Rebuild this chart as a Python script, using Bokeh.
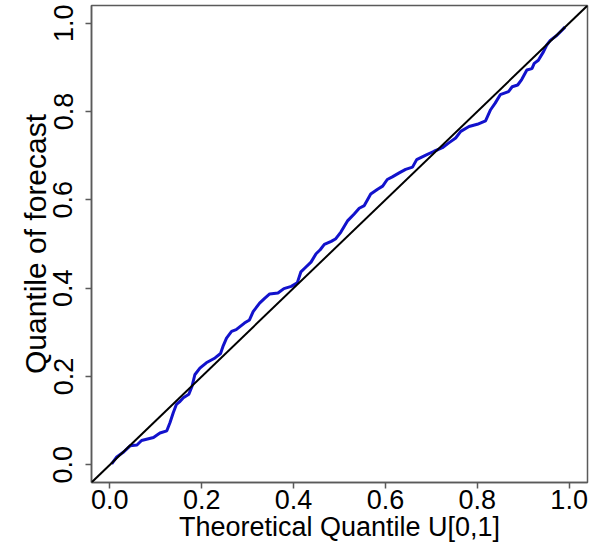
from bokeh.plotting import figure
from bokeh.models import FixedTicker, PrintfTickFormatter, Slope, Range1d
from bokeh.embed import file_html
from bokeh.resources import INLINE

# theoretical quantiles of U[0,1]
theo_q = [0.004, 0.015, 0.030, 0.044, 0.059, 0.069, 0.095, 0.109, 0.124, 0.131,
          0.138, 0.145, 0.153, 0.160, 0.172, 0.179, 0.185, 0.196, 0.210, 0.229,
          0.241, 0.247, 0.254, 0.265, 0.275, 0.293, 0.304, 0.312, 0.326, 0.337,
          0.348, 0.366, 0.379, 0.395, 0.408, 0.416, 0.427, 0.438, 0.449, 0.458,
          0.467, 0.482, 0.492, 0.503, 0.518, 0.532, 0.543, 0.554, 0.568, 0.583,
          0.594, 0.604, 0.615, 0.630, 0.644, 0.659, 0.668, 0.688, 0.706, 0.724,
          0.738, 0.753, 0.764, 0.782, 0.800, 0.818, 0.829, 0.839, 0.850, 0.868,
          0.876, 0.888, 0.897, 0.908, 0.919, 0.924, 0.933, 0.944, 0.951, 0.959,
          0.973, 0.991]
# quantiles of forecast
fcst_q = [0.002, 0.018, 0.029, 0.043, 0.045, 0.055, 0.062, 0.072, 0.077, 0.096,
          0.118, 0.137, 0.144, 0.152, 0.160, 0.178, 0.204, 0.219, 0.231, 0.242,
          0.252, 0.270, 0.287, 0.302, 0.306, 0.321, 0.328, 0.347, 0.366, 0.377,
          0.387, 0.389, 0.399, 0.404, 0.412, 0.437, 0.448, 0.459, 0.478, 0.487,
          0.499, 0.506, 0.512, 0.527, 0.553, 0.568, 0.581, 0.587, 0.613, 0.624,
          0.631, 0.646, 0.652, 0.661, 0.669, 0.674, 0.691, 0.701, 0.710, 0.718,
          0.729, 0.740, 0.755, 0.766, 0.771, 0.779, 0.804, 0.819, 0.838, 0.845,
          0.856, 0.860, 0.873, 0.894, 0.897, 0.909, 0.916, 0.935, 0.950, 0.961,
          0.972, 0.991]
tick_vals = [0.0, 0.2, 0.4, 0.6, 0.8, 1.0]

FONT = "Liberation Sans"
FS = "27px"
GRAY = "#5a5a5a"

p = figure(width=602, height=545, output_backend="svg", toolbar_location=None,
           x_range=Range1d(-0.04, 1.04), y_range=Range1d(-0.04, 1.04),
           min_border_left=91, min_border_right=15, min_border_top=5,
           min_border_bottom=63)
p.grid.visible = False
p.background_fill_color = "white"
p.border_fill_color = "white"
p.outline_line_color = GRAY
p.outline_line_width = 1.5

p.add_layout(Slope(gradient=1, y_intercept=0, line_color="black", line_width=2))
p.line(theo_q, fcst_q, line_color="#1212cc", line_width=3)

for ax in (p.xaxis[0], p.yaxis[0]):
    ax.ticker = FixedTicker(ticks=tick_vals)
    ax.formatter = PrintfTickFormatter(format="%.1f")
    ax.minor_tick_line_color = None
    ax.major_tick_in = 0
    ax.major_tick_out = 6
    ax.major_tick_line_color = GRAY
    ax.major_tick_line_width = 1.5
    ax.axis_line_color = GRAY
    ax.axis_line_width = 1.5
    ax.major_label_text_font = FONT
    ax.major_label_text_font_size = FS
    ax.major_label_text_color = "black"
    ax.axis_label_text_font = FONT
    ax.axis_label_text_font_size = FS
    ax.axis_label_text_font_style = "normal"
    ax.axis_label_text_color = "black"

p.xaxis.major_label_standoff = 1
p.xaxis.axis_label_standoff = 0
p.yaxis.major_label_standoff = 13
p.yaxis.axis_label_standoff = -1
p.yaxis.axis_label_text_font_size = "30px"

p.xaxis.axis_label = "Theoretical Quantile U[0,1]"
p.yaxis.axis_label = "Quantile of forecast"
p.yaxis.major_label_orientation = "vertical"

open("out.html", "w").write(file_html(p, INLINE))
